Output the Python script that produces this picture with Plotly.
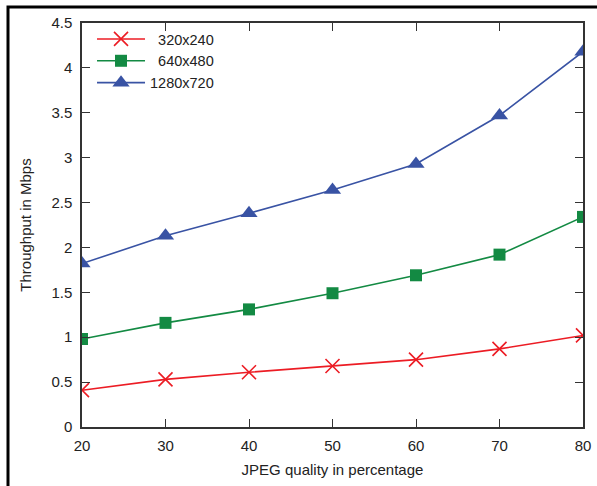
import plotly.graph_objects as go

quality = [20, 30, 40, 50, 60, 70, 80]
res_320 = [0.41, 0.53, 0.61, 0.68, 0.75, 0.87, 1.02]
res_640 = [0.98, 1.16, 1.31, 1.49, 1.69, 1.92, 2.34]
res_1280 = [1.82, 2.13, 2.38, 2.64, 2.93, 3.47, 4.18]
names = ["\u00a0\u00a0320x240", "\u00a0\u00a0640x480", "1280x720"]

red = "#ec1c24"
green = "#138a43"
blue = "#3953a4"
FONT = "Liberation Sans, Arial, sans-serif"

fig = go.Figure()
fig.add_trace(go.Scatter(x=quality, y=res_320, name=names[0], mode="lines+markers",
                         line=dict(color=red, width=1.6),
                         marker=dict(symbol="x-thin", size=14, line=dict(color=red, width=1.6), color=red)))
fig.add_trace(go.Scatter(x=quality, y=res_640, name=names[1], mode="lines+markers",
                         line=dict(color=green, width=1.6),
                         marker=dict(symbol="square", size=12, color=green)))
fig.add_trace(go.Scatter(x=quality, y=res_1280, name=names[2], mode="lines+markers",
                         line=dict(color=blue, width=1.6),
                         marker=dict(symbol="triangle-up", size=15, color=blue)))

axis_common = dict(showline=True, linecolor="#333333", linewidth=1.5, mirror="allticks",
                   ticks="inside", ticklen=8, tickcolor="#333333", tickwidth=1.2,
                   showgrid=False, zeroline=False, automargin=False,
                   tickfont=dict(family=FONT, size=15, color="#222"))

fig.update_layout(
    width=597, height=486,
    margin=dict(l=82, r=14, t=23, b=59),
    paper_bgcolor="white", plot_bgcolor="white",
    font=dict(family=FONT, size=14.5, color="#222"),
    xaxis=dict(range=[20, 80], tickvals=[20, 30, 40, 50, 60, 70, 80],
               ticklabelstandoff=4,
               title=dict(text="JPEG quality in percentage", standoff=12, font=dict(size=15)),
               **axis_common),
    yaxis=dict(range=[0, 4.5], tickvals=[0, 0.5, 1, 1.5, 2, 2.5, 3, 3.5, 4, 4.5],
               ticktext=["0", "0.5", "1", "1.5", "2", "2.5", "3", "3.5", "4", "4.5"],
               ticklabelstandoff=5,
               title=dict(text="Throughput in Mbps", standoff=16, font=dict(size=15)),
               **axis_common),
    legend=dict(x=0.02, y=1.0, xanchor="left", yanchor="top", bgcolor="rgba(0,0,0,0)",
                font=dict(size=14.5), tracegroupgap=0, itemwidth=48),
    showlegend=True,
)

# outer frame (top and left edges only, as in the reference crop)
fig.add_shape(type="path", xref="paper", yref="paper",
              path="M -0.1477,-0.2 L -0.1477,1.0396 L 1.05,1.0396",
              line=dict(color="black", width=3))

fig.write_html("out.html", config={"displayModeBar": False},
               post_script="document.documentElement.style.overflow='hidden';document.body.style.margin='0';document.body.style.overflow='hidden';")
